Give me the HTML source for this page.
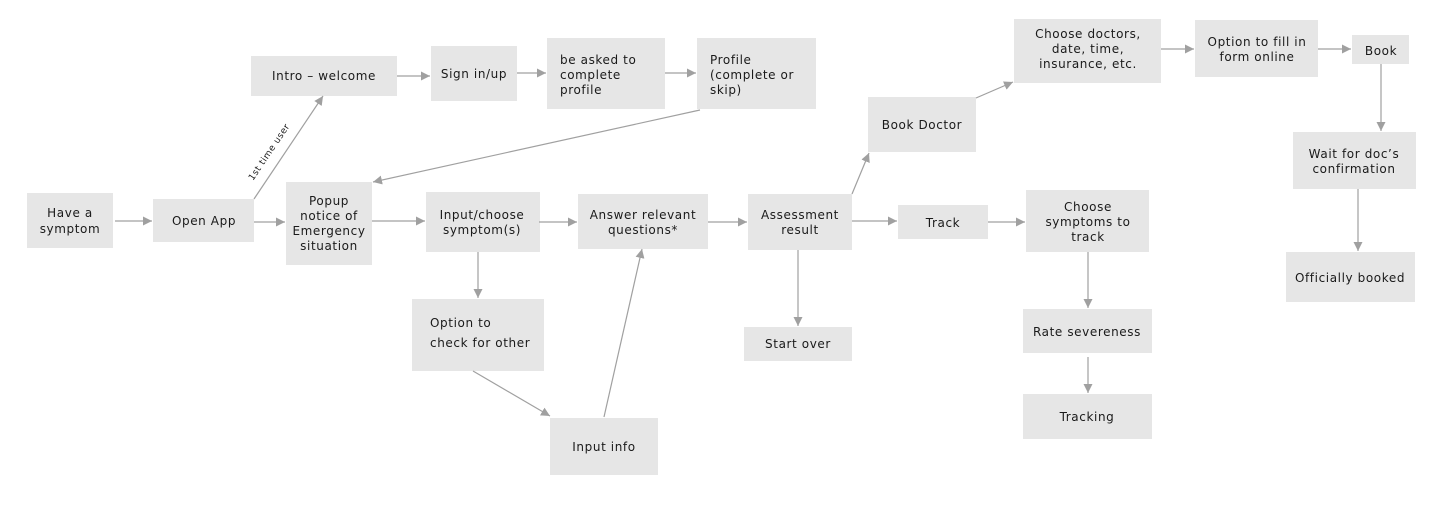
<!DOCTYPE html>
<html><head><meta charset="utf-8"><style>
html,body{margin:0;padding:0;background:#fff;}
svg{display:block;}
text{font-family:"DejaVu Sans","Liberation Sans",sans-serif;font-size:12px;fill:#1a1a1a;letter-spacing:0.6px;}
rect{fill:#e6e6e6;}
line{stroke:#a0a0a0;stroke-width:1.2;}
</style></head><body>
<svg width="1440" height="507" viewBox="0 0 1440 507" xmlns="http://www.w3.org/2000/svg">
<defs>
<marker id="a" viewBox="0 0 10 10" refX="10" refY="5" markerWidth="9" markerHeight="9" markerUnits="userSpaceOnUse" orient="auto">
<path d="M0,0 L10,5 L0,10 z" fill="#a0a0a0"/></marker>
</defs>
<!-- boxes -->
<rect x="27" y="193" width="86" height="55"/>
<rect x="153" y="199" width="101" height="43"/>
<rect x="251" y="56" width="146" height="40"/>
<rect x="431" y="46" width="86" height="55"/>
<rect x="547" y="38" width="118" height="71"/>
<rect x="697" y="38" width="119" height="71"/>
<rect x="286" y="182" width="86" height="83"/>
<rect x="426" y="192" width="114" height="60"/>
<rect x="578" y="194" width="130" height="55"/>
<rect x="748" y="194" width="104" height="56"/>
<rect x="412" y="299" width="132" height="72"/>
<rect x="550" y="418" width="108" height="57"/>
<rect x="744" y="327" width="108" height="34"/>
<rect x="868" y="97" width="108" height="55"/>
<rect x="1014" y="19" width="147" height="64"/>
<rect x="1195" y="20" width="123" height="57"/>
<rect x="1352" y="35" width="57" height="29"/>
<rect x="898" y="205" width="90" height="34"/>
<rect x="1026" y="190" width="123" height="62"/>
<rect x="1023" y="309" width="129" height="44"/>
<rect x="1023" y="394" width="129" height="45"/>
<rect x="1293" y="132" width="123" height="57"/>
<rect x="1286" y="252" width="129" height="50"/>
<!-- connectors -->
<g marker-end="url(#a)">
<line x1="115" y1="221" x2="152" y2="221"/>
<line x1="254" y1="222" x2="285" y2="222"/>
<line x1="254" y1="199" x2="323" y2="96"/>
<line x1="397" y1="76" x2="430" y2="76"/>
<line x1="517" y1="73" x2="546" y2="73"/>
<line x1="665" y1="73" x2="696" y2="73"/>
<line x1="700" y1="110" x2="373" y2="182"/>
<line x1="372" y1="221" x2="425" y2="221"/>
<line x1="539" y1="222" x2="577" y2="222"/>
<line x1="478" y1="252" x2="478" y2="298"/>
<line x1="473" y1="371" x2="550" y2="416"/>
<line x1="604" y1="417" x2="642" y2="249"/>
<line x1="708" y1="222" x2="747" y2="222"/>
<line x1="798" y1="250" x2="798" y2="326"/>
<line x1="852" y1="221" x2="897" y2="221"/>
<line x1="852" y1="194" x2="869" y2="153"/>
<line x1="976" y1="98" x2="1013" y2="82"/>
<line x1="1161" y1="49" x2="1194" y2="49"/>
<line x1="1318" y1="49" x2="1351" y2="49"/>
<line x1="1381" y1="64" x2="1381" y2="131"/>
<line x1="1358" y1="189" x2="1358" y2="251"/>
<line x1="988" y1="222" x2="1025" y2="222"/>
<line x1="1088" y1="252" x2="1088" y2="308"/>
<line x1="1088" y1="357" x2="1088" y2="393"/>
</g>
<!-- labels -->
<text x="253" y="181" transform="rotate(-56 253 181)" style="font-size:9px;letter-spacing:0.5px">1st time user</text>
<g text-anchor="middle">
<text x="70" y="217">Have a</text><text x="70" y="233">symptom</text>
<text x="204" y="225">Open App</text>
<text x="324" y="80">Intro – welcome</text>
<text x="474" y="78">Sign in/up</text>
<text x="329" y="205">Popup</text><text x="329" y="220">notice of</text><text x="329" y="235">Emergency</text><text x="329" y="250">situation</text>
<text x="482" y="219">Input/choose</text><text x="482" y="234">symptom(s)</text>
<text x="643" y="219">Answer relevant</text><text x="643" y="234">questions*</text>
<text x="800" y="219">Assessment</text><text x="800" y="234">result</text>
<text x="604" y="451">Input info</text>
<text x="798" y="348">Start over</text>
<text x="922" y="129">Book Doctor</text>
<text x="1088" y="38">Choose doctors,</text><text x="1088" y="53">date, time,</text><text x="1088" y="68">insurance, etc.</text>
<text x="1257" y="46">Option to fill in</text><text x="1257" y="61">form online</text>
<text x="1381" y="55">Book</text>
<text x="943" y="227">Track</text>
<text x="1088" y="211">Choose</text><text x="1088" y="226">symptoms to</text><text x="1088" y="241">track</text>
<text x="1087" y="336">Rate severeness</text>
<text x="1087" y="421">Tracking</text>
<text x="1354" y="158">Wait for doc’s</text><text x="1354" y="173">confirmation</text>
<text x="1350" y="282">Officially booked</text>
</g>
<text x="560" y="64">be asked to</text><text x="560" y="79">complete</text><text x="560" y="94">profile</text>
<text x="710" y="64">Profile</text><text x="710" y="79">(complete or</text><text x="710" y="94">skip)</text>
<text x="430" y="327">Option to</text><text x="430" y="347">check for other</text>
</svg>
</body></html>
